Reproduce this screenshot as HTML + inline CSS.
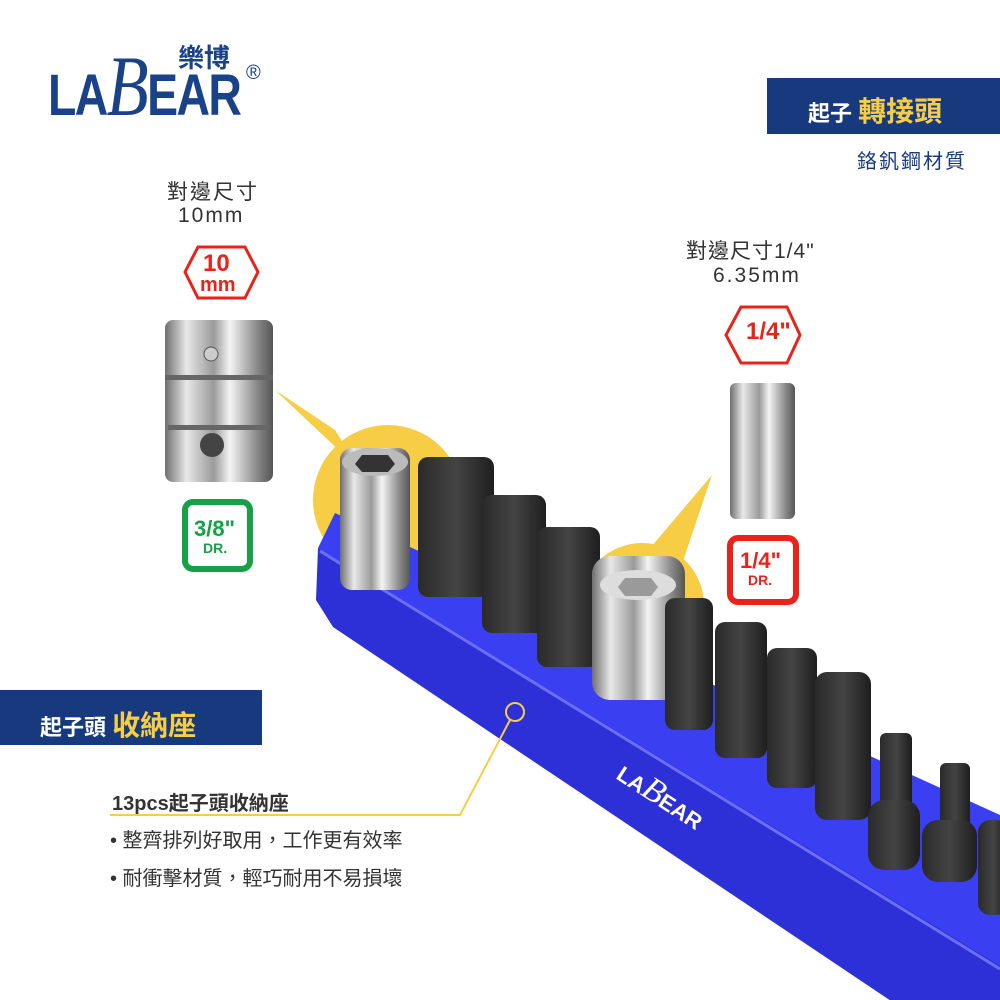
<!DOCTYPE html>
<html><head><meta charset="utf-8"><style>
body{margin:0;width:1000px;height:1000px;background:#fff;overflow:hidden;font-family:"Liberation Sans","Noto Sans CJK TC",sans-serif;}
svg{position:absolute;left:0;top:0}
.t{position:absolute;white-space:nowrap}
</style></head><body>
<svg width="1000" height="1000" viewBox="0 0 1000 1000">
<defs>
<linearGradient id="sil" x1="0" x2="1" y1="0" y2="0">
<stop offset="0" stop-color="#6f6f6f"/><stop offset=".2" stop-color="#e8e8e8"/><stop offset=".45" stop-color="#9a9a9a"/><stop offset=".6" stop-color="#f4f4f4"/><stop offset=".85" stop-color="#8a8a8a"/><stop offset="1" stop-color="#555"/>
</linearGradient>
<linearGradient id="blk" x1="0" x2="1"><stop offset="0" stop-color="#2a2a2a"/><stop offset=".5" stop-color="#444"/><stop offset="1" stop-color="#1e1e1e"/></linearGradient>
</defs>
<polygon points="275,390 335,430 360,470" fill="#f7cd45"/>
<circle cx="388" cy="500" r="75" fill="#f7cd45"/>
<polygon points="712,475 640,560 680,570" fill="#f7cd45"/>
<circle cx="642" cy="605" r="62" fill="#f7cd45"/>
<!-- rack -->
<polygon points="335,513 1000,815 1000,975 318,548" fill="#3b3ff2"/>
<polygon points="318,548 1000,966 1000,1074 333,627 316,600" fill="#2c30d6"/>
<line x1="320" y1="551" x2="1000" y2="969" stroke="#6a6ef8" stroke-width="3"/>
<g>
<rect x="340" y="448" width="70" height="142" rx="12" fill="url(#sil)"/>
<ellipse cx="375" cy="462" rx="33" ry="14" fill="#bbb"/><polygon points="362,455 388,455 395,464 388,472 362,472 355,464" fill="#333"/>
<rect x="418" y="457" width="76" height="140" rx="10" fill="url(#blk)"/>
<rect x="482" y="495" width="64" height="138" rx="10" fill="url(#blk)"/>
<rect x="537" y="527" width="63" height="140" rx="10" fill="url(#blk)"/>
<rect x="592" y="556" width="93" height="144" rx="18" fill="url(#sil)"/>
<ellipse cx="638" cy="585" rx="38" ry="15" fill="#ddd"/><polygon points="625,578 651,578 658,587 651,596 625,596 618,587" fill="#9a9a9a"/>
<rect x="665" y="598" width="48" height="132" rx="10" fill="url(#blk)"/>
<rect x="715" y="622" width="52" height="136" rx="10" fill="url(#blk)"/>
<rect x="767" y="648" width="50" height="140" rx="10" fill="url(#blk)"/>
<rect x="815" y="672" width="56" height="148" rx="12" fill="url(#blk)"/>
<rect x="880" y="733" width="32" height="90" rx="6" fill="url(#blk)"/>
<rect x="868" y="800" width="52" height="70" rx="16" fill="url(#blk)"/>
<rect x="940" y="763" width="30" height="80" rx="6" fill="url(#blk)"/>
<rect x="922" y="820" width="55" height="62" rx="16" fill="url(#blk)"/>
<rect x="978" y="820" width="30" height="95" rx="12" fill="url(#blk)"/>
</g>
<text x="615" y="778" transform="rotate(33 615 778)" font-family="Liberation Sans" font-weight="bold" font-size="22" fill="#fff">LA<tspan font-family="Liberation Serif" font-style="italic" font-weight="normal" font-size="34">B</tspan>EAR</text>
<circle cx="515" cy="712" r="9" fill="none" stroke="#f7cd45" stroke-width="2"/>
<polyline points="510,720 460,815 110,815" fill="none" stroke="#f7cd45" stroke-width="2"/>
<polygon points="198,247 245,247 258,272 245,298 198,298 185,272" fill="#fff" stroke="#e8231a" stroke-width="3"/>
<rect x="165" y="320" width="108" height="162" rx="8" fill="url(#sil)"/>
<rect x="165" y="375" width="108" height="5" fill="#666"/>
<rect x="168" y="425" width="102" height="5" fill="#666"/>
<circle cx="211" cy="354" r="7" fill="#ccc" stroke="#555"/>
<circle cx="212" cy="445" r="12" fill="#444"/>
<rect x="185" y="502" width="65" height="67" rx="8" fill="none" stroke="#16a048" stroke-width="6"/>
<polygon points="741,307 787,307 800,335 787,363 741,363 726,335" fill="#fff" stroke="#e8231a" stroke-width="3"/>
<rect x="730" y="383" width="65" height="136" rx="6" fill="url(#sil)"/>
<rect x="730" y="538" width="66" height="64" rx="8" fill="none" stroke="#e8231a" stroke-width="6"/>
<rect x="767" y="78" width="233" height="56" fill="#17397e"/>
<rect x="0" y="690" width="262" height="55" fill="#17397e"/>
</svg>
<div class="t" style="left:48px;top:62px;font-weight:bold;font-size:58px;color:#1a4289;letter-spacing:-2px;transform:scaleX(.8);transform-origin:left;">LA<span style="font-family:'Liberation Serif';font-style:italic;font-weight:normal;font-size:86px;line-height:0">B</span>EAR</div>
<div class="t" style="left:178px;top:38px;font-size:26px;color:#1a4289;font-weight:bold">樂博</div>
<div class="t" style="left:246px;top:62px;font-size:20px;color:#1a4289">®</div>
<div class="t" style="left:808px;top:90px;font-size:22px;font-weight:bold;color:#fff">起子 <span style="color:#f7cd45;font-size:28px">轉接頭</span></div>
<div class="t" style="right:33px;top:145px;font-size:20px;color:#17397e;letter-spacing:2px">鉻釩鋼材質</div>
<div class="t" style="left:167px;top:176px;font-size:21px;color:#333;letter-spacing:2px">對邊尺寸</div>
<div class="t" style="left:178px;top:204px;font-size:21px;color:#333;letter-spacing:2px">10mm</div>
<div class="t" style="left:203px;top:250px;font-size:24px;font-weight:bold;color:#e8231a">10</div>
<div class="t" style="left:200px;top:274px;font-size:20px;font-weight:bold;color:#e8231a">mm</div>
<div class="t" style="left:194px;top:516px;font-size:22px;font-weight:bold;color:#16a048">3/8"</div>
<div class="t" style="left:203px;top:540px;font-size:14px;font-weight:bold;color:#16a048">DR.</div>
<div class="t" style="left:686px;top:235px;font-size:21px;color:#333;letter-spacing:1px">對邊尺寸1/4"</div>
<div class="t" style="left:713px;top:264px;font-size:21px;color:#333;letter-spacing:2px">6.35mm</div>
<div class="t" style="left:746px;top:318px;font-size:24px;font-weight:bold;color:#e8231a">1/4"</div>
<div class="t" style="left:740px;top:548px;font-size:22px;font-weight:bold;color:#e8231a">1/4"</div>
<div class="t" style="left:748px;top:572px;font-size:14px;font-weight:bold;color:#e8231a">DR.</div>
<div class="t" style="left:40px;top:704px;font-size:22px;font-weight:bold;color:#fff">起子頭 <span style="color:#f7cd45;font-size:28px">收納座</span></div>
<div class="t" style="left:112px;top:787px;font-size:20px;font-weight:bold;color:#333">13pcs起子頭收納座</div>
<div class="t" style="left:110px;top:824px;font-size:20px;color:#333">• 整齊排列好取用，工作更有效率</div>
<div class="t" style="left:110px;top:862px;font-size:20px;color:#333">• 耐衝擊材質，輕巧耐用不易損壞</div>
</body></html>
